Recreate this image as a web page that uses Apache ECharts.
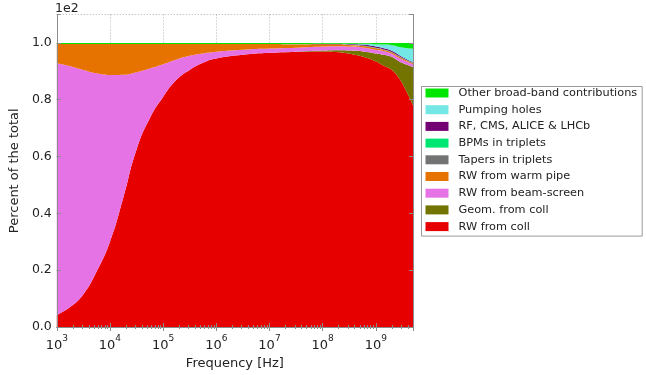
<!DOCTYPE html>
<html>
<head>
<meta charset="utf-8">
<script src="https://cdn.jsdelivr.net/npm/echarts@6/dist/echarts.min.js"></script>
<style>
  html, body { margin: 0; padding: 0; background: #fff; }
  #chart { width: 646px; height: 375px; }
</style>
</head>
<body>
<div id="chart"></div>
<script>
// Frequency sample points [Hz]
const freqs = [1e3, 1.78e3, 3.16e3, 5.62e3, 1e4, 1.78e4, 3.16e4, 5.62e4, 1e5, 1.78e5,
  3.16e5, 5.62e5, 1e6, 3.16e6, 1e7, 3.16e7, 1e8, 1.78e8, 3.16e8, 5.62e8,
  1e9, 1.41e9, 2e9, 2.82e9, 3.98e9, 5e9];

// Fraction of the total impedance for each contribution (stacked bottom to top)
const rwColl = [0.042, 0.07, 0.115, 0.195, 0.30, 0.455, 0.625, 0.735, 0.81, 0.87,
  0.905, 0.93, 0.945, 0.958, 0.965, 0.968, 0.970, 0.968, 0.962, 0.952,
  0.935, 0.920, 0.905, 0.872, 0.82, 0.78];
const geomColl = [0, 0, 0, 0, 0, 0, 0, 0, 0, 0,
  0, 0, 0, 0, 0, 0.001, 0.003, 0.006, 0.011, 0.018,
  0.028, 0.038, 0.045, 0.062, 0.102, 0.135];
const rwBeamScreen = [0.886, 0.848, 0.79, 0.698, 0.587, 0.433, 0.272, 0.175, 0.115, 0.072,
  0.05, 0.033, 0.024, 0.018, 0.015, 0.014, 0.014, 0.014, 0.014, 0.014,
  0.013, 0.013, 0.012, 0.012, 0.011, 0.010];
const rwWarmPipe = [0.068, 0.078, 0.091, 0.103, 0.109, 0.108, 0.099, 0.086, 0.071, 0.054,
  0.041, 0.033, 0.027, 0.02, 0.016, 0.012, 0.008, 0.007, 0.006, 0.005,
  0.005, 0.004, 0.004, 0.004, 0.003, 0.003];
const tapersTriplets = [0, 0, 0, 0, 0, 0, 0, 0, 0, 0,
  0, 0, 0, 0, 0, 0, 0, 0, 0, 0.001,
  0.001, 0.001, 0.001, 0.001, 0.001, 0.001];
const bpmsTriplets = [0, 0, 0, 0, 0, 0, 0, 0, 0, 0,
  0, 0, 0, 0, 0, 0, 0, 0, 0, 0.001,
  0.001, 0.001, 0.001, 0.001, 0.001, 0.001];
const rfCmsAliceLhcb = [0, 0, 0, 0, 0, 0, 0, 0, 0, 0,
  0, 0, 0, 0, 0, 0, 0.001, 0.001, 0.002, 0.003,
  0.004, 0.004, 0.004, 0.004, 0.003, 0.003];
const pumpingHoles = [0, 0, 0, 0, 0, 0, 0, 0, 0, 0,
  0, 0, 0, 0, 0, 0.001, 0.001, 0.001, 0.002, 0.003,
  0.008, 0.013, 0.020, 0.030, 0.040, 0.046];
const otherBroadBand = [0.004, 0.004, 0.004, 0.004, 0.004, 0.004, 0.004, 0.004, 0.004, 0.004,
  0.004, 0.004, 0.004, 0.004, 0.004, 0.004, 0.003, 0.003, 0.003, 0.003,
  0.005, 0.006, 0.008, 0.014, 0.019, 0.021];

const yTicks = [0.0, 0.2, 0.4, 0.6, 0.8, 1.0];

// Stacking order (bottom first) with names and fill colours
const layers = [
  { name: 'RW from coll', values: rwColl, color: '#e60000' },
  { name: 'Geom. from coll', values: geomColl, color: '#737300' },
  { name: 'RW from beam-screen', values: rwBeamScreen, color: '#e673e6' },
  { name: 'RW from warm pipe', values: rwWarmPipe, color: '#e67300' },
  { name: 'Tapers in triplets', values: tapersTriplets, color: '#737373' },
  { name: 'BPMs in triplets', values: bpmsTriplets, color: '#00e673' },
  { name: 'RF, CMS, ALICE & LHCb', values: rfCmsAliceLhcb, color: '#730073' },
  { name: 'Pumping holes', values: pumpingHoles, color: '#73e6e6' },
  { name: 'Other broad-band contributions', values: otherBroadBand, color: '#00e600' }
];

const FONT = 'DejaVu Sans';
const frameColor = '#8c8c8c';
const gridLine = { show: true, lineStyle: { color: 'rgba(0,0,0,0.3)', type: [1, 2], width: 1 } };

const chart = echarts.init(document.getElementById('chart'), null, { renderer: 'canvas' });

const decade = v => String(Math.round(Math.log10(v)));

chart.setOption({
  animation: false,
  backgroundColor: '#ffffff',
  textStyle: { fontFamily: FONT },
  grid: { left: 55.5, right: 233, top: 14.5, bottom: 48, containLabel: false },
  legend: {
    orient: 'vertical',
    left: 421.5, top: 86.5,
    data: layers.slice().reverse().map(l => l.name),
    icon: 'rect',
    itemWidth: 23, itemHeight: 9, itemGap: 5.7,
    padding: [1, 5, 4, 4],
    borderColor: '#999', borderWidth: 1, borderRadius: 0,
    backgroundColor: '#fff',
    textStyle: { fontFamily: FONT, fontSize: 11.3, color: '#222', lineHeight: 11, padding: [0, 0, 0, 5] }
  },
  graphic: [{
    type: 'text', left: 55, top: 2,
    style: { text: '1e2', font: '12.5px "DejaVu Sans"', fill: '#222' }
  }],
  xAxis: [{
    type: 'log', logBase: 10, min: 1e3, max: 5e9, z: 3,
    name: 'Frequency [Hz]', nameLocation: 'middle', nameGap: 24,
    nameTextStyle: { fontFamily: FONT, fontSize: 13, color: '#222' },
    axisLine: { show: true, lineStyle: { color: frameColor, width: 1 } },
    axisTick: { show: true, inside: true, length: 4, lineStyle: { color: frameColor } },
    minorTick: { show: true, splitNumber: 9, length: 2, lineStyle: { color: frameColor } },
    splitLine: gridLine,
    axisLabel: {
      showMaxLabel: false, margin: 4,
      formatter: v => '{b|10}{e|' + decade(v) + '}',
      rich: {
        b: { fontFamily: FONT, fontSize: 13, color: '#222', padding: [8, 0, 0, 0] },
        e: { fontFamily: FONT, fontSize: 9, color: '#222', padding: [0, 0, 5, 0] }
      }
    }
  }, {
    type: 'log', logBase: 10, min: 1e3, max: 5e9, position: 'top', z: 3,
    axisLine: { show: true, lineStyle: { color: frameColor, width: 1 } },
    axisTick: { show: true, inside: true, length: 4, lineStyle: { color: frameColor } },
    minorTick: { show: true, splitNumber: 9, length: 2, lineStyle: { color: frameColor } },
    axisLabel: { show: false }, splitLine: { show: false }
  }],
  yAxis: [{
    type: 'value', min: 0, max: 1.1, interval: 0.2, z: 3,
    name: 'Percent of the total', nameLocation: 'middle', nameGap: 28,
    nameTextStyle: { fontFamily: FONT, fontSize: 13, color: '#222' },
    axisLine: { show: true, lineStyle: { color: frameColor, width: 1 } },
    axisTick: { show: true, inside: true, length: 4, lineStyle: { color: frameColor } },
    splitLine: gridLine,
    axisLabel: {
      fontFamily: FONT, fontSize: 12.5, color: '#222', margin: 5, showMaxLabel: true,
      formatter: v => yTicks.some(t => Math.abs(t - v) < 1e-9) ? v.toFixed(1) : ''
    }
  }, {
    type: 'value', min: 0, max: 1.1, interval: 0.2, position: 'right', z: 3,
    axisLine: { show: true, lineStyle: { color: frameColor, width: 1 } },
    axisTick: { show: true, inside: true, length: 4, lineStyle: { color: frameColor } },
    axisLabel: { show: false }, splitLine: { show: false }
  }],
  // Each point is stored as [fraction, frequency] so the fraction is the stacked dimension
  series: layers.map(l => ({
    name: l.name,
    type: 'line',
    stack: 'total',
    xAxisIndex: 0, yAxisIndex: 0,
    data: freqs.map((f, i) => [l.values[i], f]),
    encode: { x: 1, y: 0 },
    color: l.color,
    itemStyle: { color: l.color },
    areaStyle: { color: l.color, opacity: 1 },
    lineStyle: { width: 0 },
    showSymbol: false, symbol: 'none',
    smooth: 0.5,
    silent: true
  }))
});
</script>
</body>
</html>
